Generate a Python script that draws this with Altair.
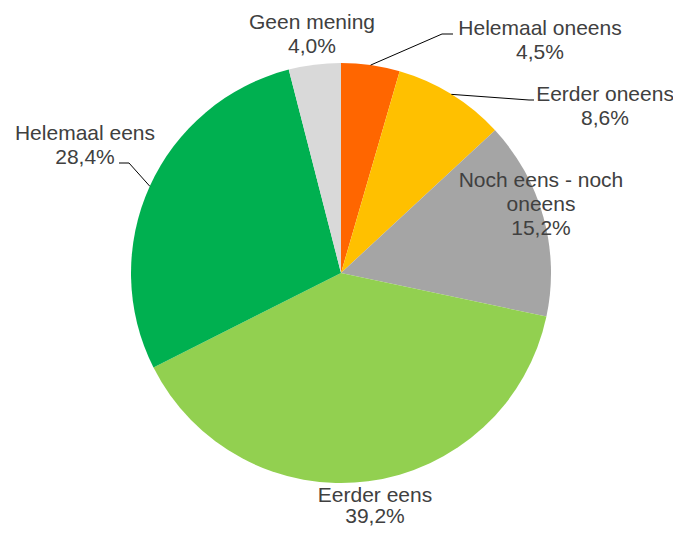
import math
import altair as alt
import pandas as pd

# ---- data ----
categories = ["Helemaal oneens", "Eerder oneens", "Noch eens - noch oneens",
              "Eerder eens", "Helemaal eens", "Geen mening"]
values = [4.5, 8.6, 15.2, 39.2, 28.4, 4.0]
colors = ["#FF6600", "#FFC000", "#A5A5A5", "#92D050", "#00B050", "#D9D9D9"]
label_lines = [["Helemaal oneens"], ["Eerder oneens"], ["Noch eens - noch", "oneens"],
               ["Eerder eens"], ["Helemaal eens"], ["Geen mening"]]

# ---- layout (page pixels) ----
W, H = 665, 518
CX, CY, R = 341, 273, 210           # pie centre / radius in page coords
FONT = "Liberation Sans"
FS = 21
label_pos = [(540, 35), (605, 101), (541, 187), (375, 502), (85, 140), (312, 29)]
label_lh = [24, 24, 24, 21, 24, 24]
# leader lines: elbow and end points for labels that have one
leaders = {0: [(442, 34), (453, 34)], 1: [(529, 100), (534, 100)], 4: [(129, 163), (119, 163)]}

def pct(v):
    return f"{v:.1f}%".replace(".", ",")

pie_df = pd.DataFrame({"cat": categories, "value": values, "idx": range(len(values))})

rows = []
for i, (cat, v) in enumerate(zip(categories, values)):
    lines = label_lines[i] + [pct(v)]
    x0, y0 = label_pos[i]
    for j, t in enumerate(lines):
        rows.append({"cat": cat, "text": t, "x": x0, "y": y0 + j * label_lh[i]})
text_df = pd.DataFrame(rows)

total = sum(values)
lrows = []
cum = 0.0
for i, v in enumerate(values):
    mid = (cum + v / 2) / total * 2 * math.pi
    cum += v
    if i in leaders:
        pts = [(CX + R * math.sin(mid), CY - R * math.cos(mid))] + leaders[i]
        for k, (px, py) in enumerate(pts):
            lrows.append({"cat": categories[i], "k": k, "x": px, "y": py})
line_df = pd.DataFrame(lrows)

xs = alt.Scale(domain=[8, 8 + W], range=[0, W])
ys = alt.Scale(domain=[8, 8 + H], range=[0, H])

pie = alt.Chart(pie_df).mark_arc(radius=R, stroke=None).encode(
    theta=alt.Theta("value:Q", stack=True),
    order=alt.Order("idx:Q"),
    color=alt.Color("cat:N", scale=alt.Scale(domain=categories, range=colors), legend=None),
    x=alt.value(CX - 8),
    y=alt.value(CY - 8),
)

leader = alt.Chart(line_df).mark_line(color="#000000", strokeWidth=1).encode(
    x=alt.X("x:Q", scale=xs, axis=None),
    y=alt.Y("y:Q", scale=ys, axis=None),
    detail="cat:N",
    order="k:Q",
)

labels = alt.Chart(text_df).mark_text(
    font=FONT, fontSize=FS, color="#404040", align="center", baseline="alphabetic"
).encode(
    x=alt.X("x:Q", scale=xs, axis=None),
    y=alt.Y("y:Q", scale=ys, axis=None),
    text="text:N",
)

chart = alt.layer(pie, leader, labels).properties(
    width=W, height=H, padding=0, autosize=alt.AutoSizeParams(type="none")
).configure_view(stroke=None)

chart.save("out.html", embed_options={"renderer": "svg", "actions": False})
